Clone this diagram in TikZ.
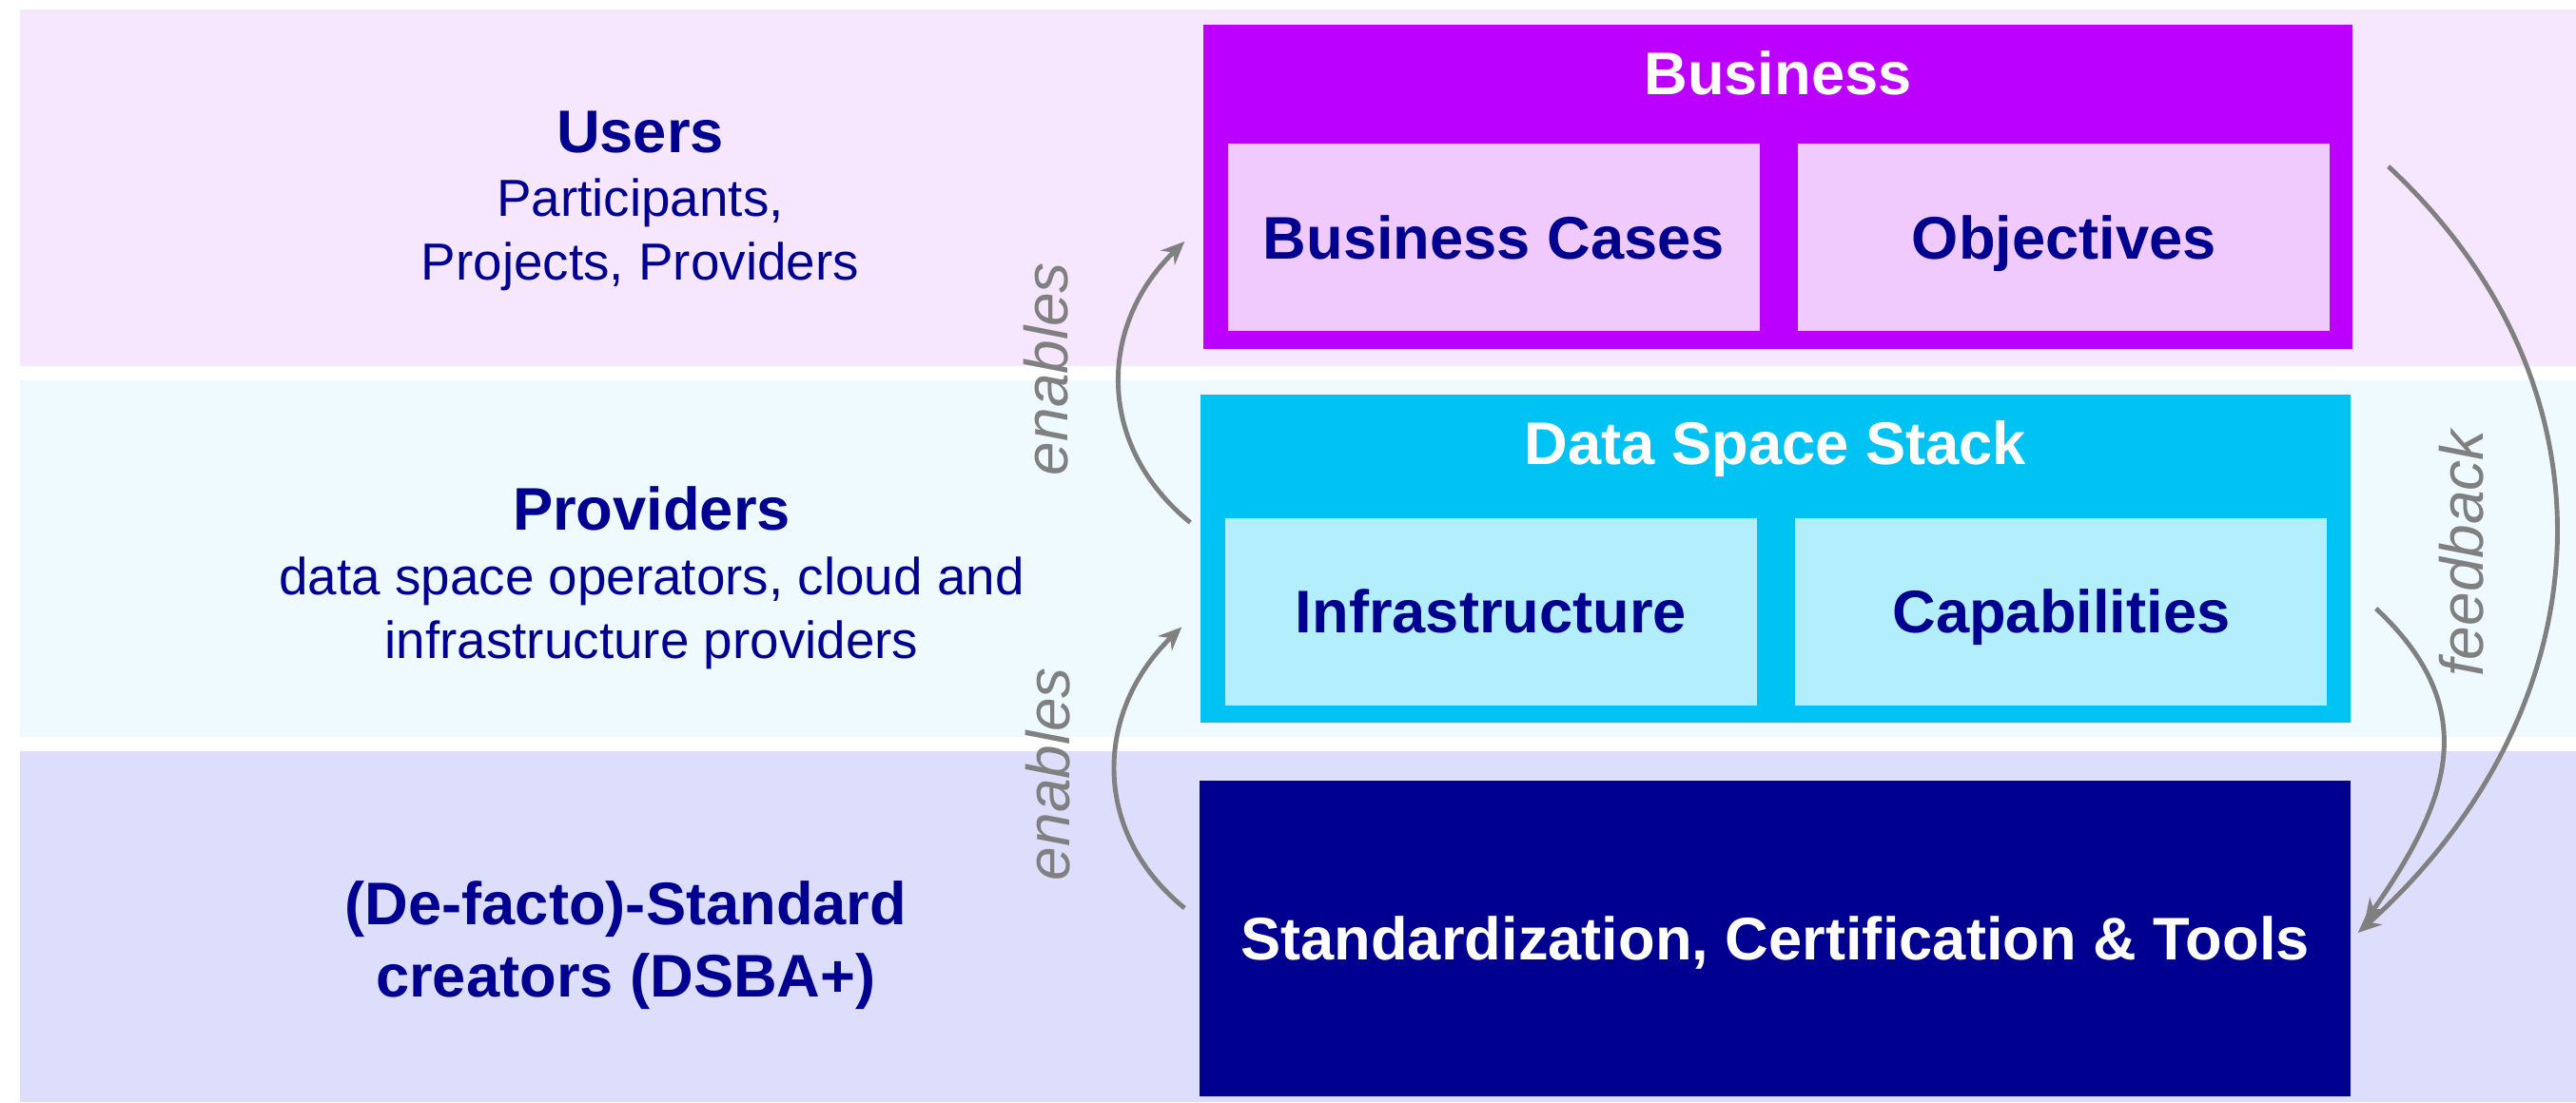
\documentclass[tikz,border=0pt]{standalone}
\usepackage{fontspec}
\setmainfont{Liberation Sans}
\usetikzlibrary{positioning,arrows.meta,calc}

\definecolor{userbg}{RGB}{246,230,254}
\definecolor{provbg}{RGB}{238,250,255}
\definecolor{stdbg}{RGB}{221,221,252}
\definecolor{bizpurple}{RGB}{187,0,255}
\definecolor{bizlight}{RGB}{240,202,253}
\definecolor{stackblue}{RGB}{0,195,243}
\definecolor{stacklight}{RGB}{179,238,252}
\definecolor{navy}{RGB}{0,0,144}
\definecolor{arrgray}{RGB}{128,128,128}

\tikzset{
    head/.style={font=\bfseries\fontsize{18}{21}\selectfont, text=navy, anchor=base, inner sep=0pt},
    sub/.style={font=\fontsize{15.6}{19}\selectfont, text=navy, anchor=base, inner sep=0pt},
    outerbox/.style={fill=#1, inner sep=0pt},
    innerbox/.style={fill=#1, inner sep=0pt, minimum width=5.59cm, minimum height=1.97cm,
        text=navy, font=\bfseries\fontsize{18}{21}\selectfont, text height=12.9pt, text depth=0pt},
    boxtitle/.style={text=white, font=\bfseries\fontsize{18}{21}\selectfont, anchor=base, inner sep=0pt},
    arr/.style={draw=arrgray, line width=1.4pt, -{Stealth[length=7pt,width=6pt]}},
    note/.style={text=arrgray, font=\itshape\fontsize{18.2}{21}\selectfont, rotate=90, inner sep=0pt}
}

\begin{document}
\begin{tikzpicture}
    \useasboundingbox (0,0) rectangle (27.08,11.59);

    % --- Layers ---
    \fill[userbg] (0.21,7.74) rectangle (27.08,11.49);
    \fill[provbg] (0.21,3.84) rectangle (27.08,7.59);
    \fill[stdbg]  (0.21,0) rectangle (27.08,3.69);

    % --- Business ---
    \node[outerbox=bizpurple, minimum width=12.08cm, minimum height=3.41cm] (biz) at (18.69,9.625) {};
    \node[boxtitle] (biztitle) at ([yshift=-0.745cm]biz.north) {Business};
    \node[innerbox=bizlight, anchor=south west] (cases) at ([shift={(0.26,0.19)}]biz.south west) {Business Cases};
    \node[innerbox=bizlight, right=0.39cm of cases] (obj) {Objectives};

    % --- Data Space Stack ---
    \node[outerbox=stackblue, minimum width=12.09cm, minimum height=3.45cm] (stack) at (18.665,5.715) {};
    \node[boxtitle] (stacktitle) at ([yshift=-0.745cm]stack.north) {Data Space Stack};
    \node[innerbox=stacklight, anchor=south west] (infbox) at ([shift={(0.26,0.185)}]stack.south west) {Infrastructure};
    \node[innerbox=stacklight, right=0.39cm of infbox] (capbox) {Capabilities};

    % --- Standards ---
    \node[outerbox=navy, minimum width=12.10cm, minimum height=3.32cm, text=white,
        font=\bfseries\fontsize{18}{21}\selectfont, text height=12.9pt, text depth=0pt] (std) at (18.66,1.72)
        {Standardization, Certification \& Tools};

    % --- Arrows ---
    \coordinate (up1) at ($(stack.west)+(-0.10,0.38)$);
    \coordinate (up2) at ($(biz.west)+(-0.19,-0.575)$);
    \coordinate (lo1) at ($(std.west)+(-0.15,0.32)$);
    \coordinate (lo2) at ($(stack.west)+(-0.19,-0.72)$);
    \coordinate (fb1) at ($(biz.east)+(0.37,0.215)$);
    \coordinate (fb2) at ($(std.east)+(0.07,0.06)$);
    \coordinate (fs1) at ($(stack.east)+(0.26,-0.525)$);
    \coordinate (fs2) at ($(std.east)+(0.14,0.17)$);
    \draw[arr] (up1) to[out=141,in=-136,looseness=1.1] (up2);
    \draw[arr] (lo1) to[out=141,in=-136,looseness=1.1] (lo2);
    \draw[arr] (fb1) to[out=-43,in=42,looseness=1.1] (fb2);
    \draw[arr] (fs1) to[out=-43,in=55,looseness=1.2] (fs2);
    \node[note] (en1) at (11.00,7.71) {enables};
    \node[note] (en2) at (11.02,3.45) {enables};
    \node[note] (fbk) at (25.88,5.77) {feedback};

    % --- Roles ---
    \node[head] (users) at (6.73,9.99) {Users};
    \node[sub] (part) at ([yshift=-0.67cm]users.base) {Participants,};
    \node[sub] (proj) at ([yshift=-0.67cm]part.base) {Projects, Providers};
    \node[head] (prov) at (6.85,6.02) {Providers};
    \node[sub] (ops) at ([yshift=-0.68cm]prov.base) {data space operators, cloud and};
    \node[sub] (infp) at ([yshift=-0.67cm]ops.base) {infrastructure providers};
    \node[head] (stdc) at (6.58,1.87) {(De-facto)-Standard};
    \node[head] (crea) at ([yshift=-0.76cm]stdc.base) {creators (DSBA+)};
\end{tikzpicture}
\end{document}
